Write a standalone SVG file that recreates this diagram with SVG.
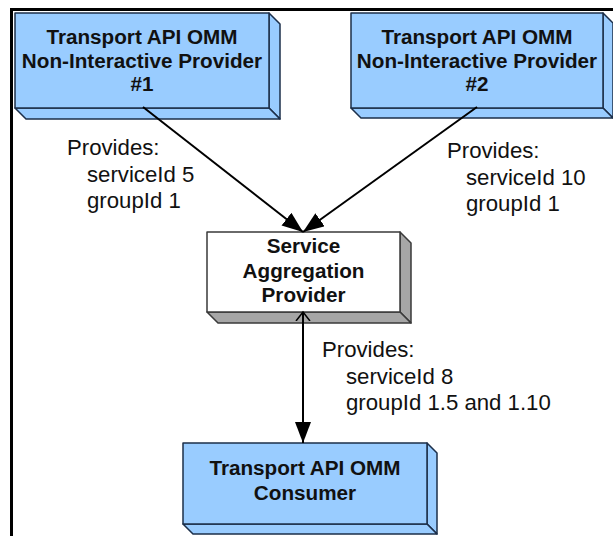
<svg xmlns="http://www.w3.org/2000/svg" width="613" height="536" viewBox="0 0 613 536">
<style>
.face{fill:#99ccff;stroke:#1c2f4a;stroke-width:1.5;stroke-linejoin:round}
.wface{fill:#ffffff;stroke:#3a3a3a;stroke-width:1.5;stroke-linejoin:round}
.gface{fill:#a6a6a6;stroke:#3a3a3a;stroke-width:1.5;stroke-linejoin:round}
.title{font-family:"Liberation Sans",Arial,sans-serif;font-weight:bold;font-size:20.7px;fill:#111;text-anchor:middle}
.lbl{font-family:"Liberation Sans",Arial,sans-serif;font-size:22.2px;fill:#111}
.conn{stroke:#000;stroke-width:2;fill:none}
</style>
<defs>
<marker id="arrFill" markerUnits="userSpaceOnUse" markerWidth="22" markerHeight="18" refX="21" refY="8" orient="auto">
<path d="M0,0 L21,8 L0,16 z" fill="#000"/>
</marker>
<marker id="arrOpen" markerUnits="userSpaceOnUse" markerWidth="12" markerHeight="18" refX="9" refY="8" orient="auto-start-reverse">
<path d="M0,1 L9,8 L0,15" fill="none" stroke="#000" stroke-width="1.5"/>
</marker>
</defs>
<rect width="613" height="536" fill="#fff"/>
<path d="M11.5,536 V9.5 H613" fill="none" stroke="#000" stroke-width="3"/>

<g id="provider1">
<polygon class="face" points="269,13 280,24 280,119 269,108"/>
<polygon class="face" points="15,108 269,108 280,119 26,119"/>
<rect class="face" x="15" y="13" width="254" height="95"/>
<text class="title" x="142" y="44">Transport API OMM</text>
<text class="title" x="142" y="67.5">Non-Interactive Provider</text>
<text class="title" x="142" y="91">#1</text>
</g>

<g id="provider2">
<polygon class="face" points="603,13 613,23 613,118 603,108"/>
<polygon class="face" points="351,108 603,108 613,118 361,118"/>
<rect class="face" x="351" y="13" width="252" height="95"/>
<text class="title" x="477" y="44">Transport API OMM</text>
<text class="title" x="477" y="67.5">Non-Interactive Provider</text>
<text class="title" x="477" y="91">#2</text>
</g>

<g id="aggregator">
<polygon class="gface" points="400,232 411,243 411,323 400,312"/>
<polygon class="gface" points="207,312 400,312 411,323 218,323"/>
<rect class="wface" x="207" y="232" width="193" height="80"/>
<text class="title" x="303.5" y="253">Service</text>
<text class="title" x="303.5" y="277.5">Aggregation</text>
<text class="title" x="303.5" y="302">Provider</text>
</g>

<g id="consumer">
<polygon class="face" points="427,443 437,453 437,534 427,524"/>
<polygon class="face" points="183,524 427,524 437,534 193,534"/>
<rect class="face" x="183" y="443" width="244" height="81"/>
<text class="title" x="305" y="475">Transport API OMM</text>
<text class="title" x="305" y="500">Consumer</text>
</g>

<g id="connectors">
<line class="conn" x1="143" y1="107" x2="303" y2="232" marker-end="url(#arrFill)"/>
<line class="conn" x1="477" y1="107" x2="303" y2="232" marker-end="url(#arrFill)"/>
<line class="conn" x1="303" y1="312" x2="303" y2="443" marker-start="url(#arrOpen)" marker-end="url(#arrFill)"/>
</g>

<g id="labels">
<text class="lbl" x="67" y="155">Provides:</text>
<text class="lbl" x="87" y="182">serviceId 5</text>
<text class="lbl" x="87" y="208">groupId 1</text>
<text class="lbl" x="447" y="158">Provides:</text>
<text class="lbl" x="466" y="185">serviceId 10</text>
<text class="lbl" x="466" y="211">groupId 1</text>
<text class="lbl" x="322" y="357">Provides:</text>
<text class="lbl" x="346" y="384">serviceId 8</text>
<text class="lbl" x="346" y="410">groupId 1.5 and 1.10</text>
</g>
</svg>
